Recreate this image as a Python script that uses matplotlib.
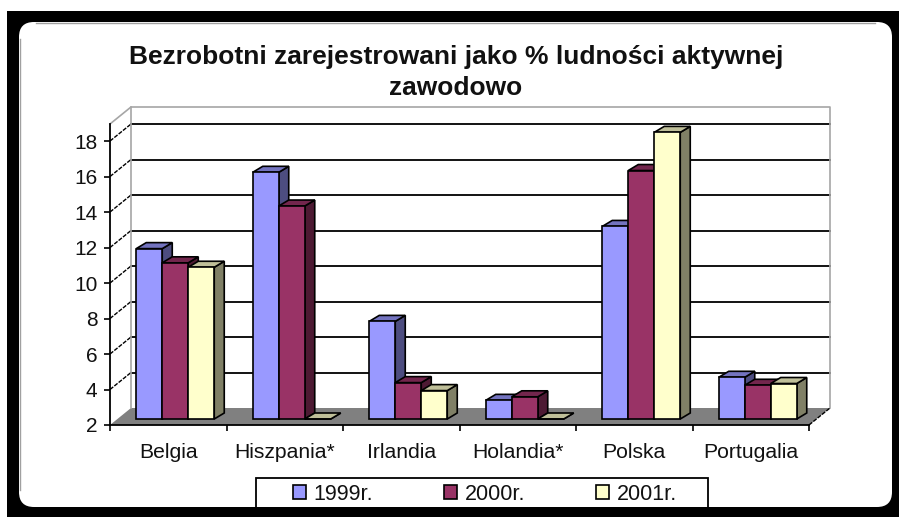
import matplotlib
matplotlib.use("Agg")
import matplotlib.pyplot as plt
from matplotlib.patches import FancyBboxPatch, Polygon, Rectangle

plt.rcParams['font.family'] = ['Liberation Sans', 'DejaVu Sans']

title = "Bezrobotni zarejestrowani jako % ludności aktywnej\nzawodowo"
categories = ["Belgia", "Hiszpania*", "Irlandia", "Holandia*", "Polska", "Portugalia"]
y_ticks = [2, 4, 6, 8, 10, 12, 14, 16, 18]
years = ["1999r.", "2000r.", "2001r."]

values_1999 = [11.6, 15.9, 7.5, 3.05, 12.85, 4.35]
values_2000 = [10.8, 14.0, 4.05, 3.25, 16.0, 3.9]
values_2001 = [10.55, 2.0, 3.6, 2.0, 18.15, 4.0]

front_colors = ["#9999ff", "#993366", "#ffffcc"]
side_colors = ["#4d4d80", "#4d1a33", "#808066"]
top_colors = ["#7373bf", "#73264d", "#bfbf99"]

W, H = 899, 517
fig = plt.figure(figsize=(W / 100, H / 100), dpi=100, facecolor="white")

# frame, in pixels
bg = fig.add_axes([0, 0, 1, 1])
bg.set_xlim(0, W)
bg.set_ylim(H, 0)
bg.axis("off")
bg.add_patch(Rectangle((7, 11), W - 7, H - 11, fc="black", ec="none"))
bg.add_patch(FancyBboxPatch((19, 22), 873, 485, boxstyle="round,pad=0,rounding_size=15",
                            fc="white", ec="none"))
bg.plot([36, 875], [22.5, 22.5], color="#a0a0a0", lw=1)
bg.plot([19.5, 19.5], [39, 490], color="#a0a0a0", lw=1)

# front plane of the chart box
left, right, floor_y, top_y = 110, 809, 425, 124
ax = fig.add_axes([left / W, (H - floor_y) / H, (right - left) / W, (floor_y - top_y) / H])
ax.set_xlim(0, 6)
ax.set_ylim(2, 18.96)
ax.patch.set_alpha(0)
px_x = 6 / (right - left)
px_y = 16.96 / (floor_y - top_y)


def shift(x, y, dx, dy):
    return x + dx * px_x, y + dy * px_y


# depth of the box in pixels
box_dx, box_dy = 21, 17
bar_dx, bar_dy = 7, 6
depth_dx, depth_dy = 10, 6
bar_w = 26 * px_x

ymax = ax.get_ylim()[1]
ax.add_patch(Polygon([(0, 2), (6, 2), shift(6, 2, box_dx, box_dy), shift(0, 2, box_dx, box_dy)],
                     fc="#808080", ec="none", clip_on=False, zorder=1))
x0, _ = shift(0, 2, box_dx, box_dy)
x1, _ = shift(6, 2, box_dx, box_dy)
for tick in y_ticks[1:]:
    by = shift(0, tick, box_dx, box_dy)[1]
    ax.plot([x0, x1], [by, by], color="black", lw=1.3, clip_on=False, zorder=1.5)
    ax.plot([0, x0], [tick, by], color="black", lw=1, ls=(0, (3, 1)), clip_on=False, zorder=1.5)
by0 = shift(0, 2, box_dx, box_dy)[1]
by1 = shift(0, ymax, box_dx, box_dy)[1]
ax.plot([0, x0, x1, x1], [ymax, by1, by1, by0], color="#a6a6a6", lw=1.2, clip_on=False, zorder=1.5)
ax.plot([x0, x0], [by0, by1], color="#a6a6a6", lw=1.2, clip_on=False, zorder=1.5)
ax.plot([6, x1], [2, by0], color="black", lw=1, ls=(0, (3, 1)), clip_on=False, zorder=1.5)

z = 2
for c in range(len(categories)):
    start = c + 0.5 - 1.5 * bar_w
    for s, series in enumerate([values_1999, values_2000, values_2001]):
        xa, ya = shift(start + s * bar_w, 2, bar_dx, bar_dy)
        xb = xa + bar_w
        yt = series[c] + bar_dy * px_y
        ddx, ddy = depth_dx * px_x, depth_dy * px_y
        kw = dict(ec="black", lw=1.2, clip_on=False, joinstyle="miter")
        ax.add_patch(Polygon([(xb, ya), (xb + ddx, ya + ddy), (xb + ddx, yt + ddy), (xb, yt)],
                             fc=side_colors[s], zorder=z, **kw))
        ax.add_patch(Polygon([(xa, yt), (xb, yt), (xb + ddx, yt + ddy), (xa + ddx, yt + ddy)],
                             fc=top_colors[s], zorder=z, **kw))
        ax.add_patch(Rectangle((xa, ya), bar_w, yt - ya, fc=front_colors[s], zorder=z + 0.1, **kw))
        z += 1

for spine in ("top", "right"):
    ax.spines[spine].set_visible(False)
ax.spines["left"].set_linewidth(1.3)
ax.spines["bottom"].set_linewidth(1.3)
ax.set_yticks(y_ticks)
ax.set_xticks(range(7))
ax.set_xticklabels([])
ax.set_xticks([i + 0.5 for i in range(6)], categories, minor=True)
ax.tick_params(axis="x", which="major", length=4, width=1.2)
ax.tick_params(axis="x", which="minor", length=0, pad=13, labelsize=15.2, labelcolor="#111111")
ax.tick_params(axis="y", length=4, width=1.2, pad=5, labelsize=15, labelcolor="#111111")

bg.text(456, 72.5, title, ha="center", va="center", fontsize=19, fontweight="bold",
        color="#111111", linespacing=1.42)

# legend box
bg.add_patch(Rectangle((256, 478), 452, 32, fc="white", ec="black", lw=1.3))
bg.add_patch(Rectangle((7, 507), W - 7, 10, fc="black", ec="none"))
handles = [Rectangle((0, 0), 1, 1, fc=front_colors[i], ec="black", lw=1.2) for i in range(3)]
fig.legend(handles, years, loc="center", bbox_to_anchor=(485 / W, 1 - 494 / H), ncol=3,
           frameon=False, fontsize=15.5, handlelength=0.6, handleheight=0.6, handletextpad=0.35,
           columnspacing=3.3, labelcolor="#111111")

fig.savefig("out.png", dpi=100)
